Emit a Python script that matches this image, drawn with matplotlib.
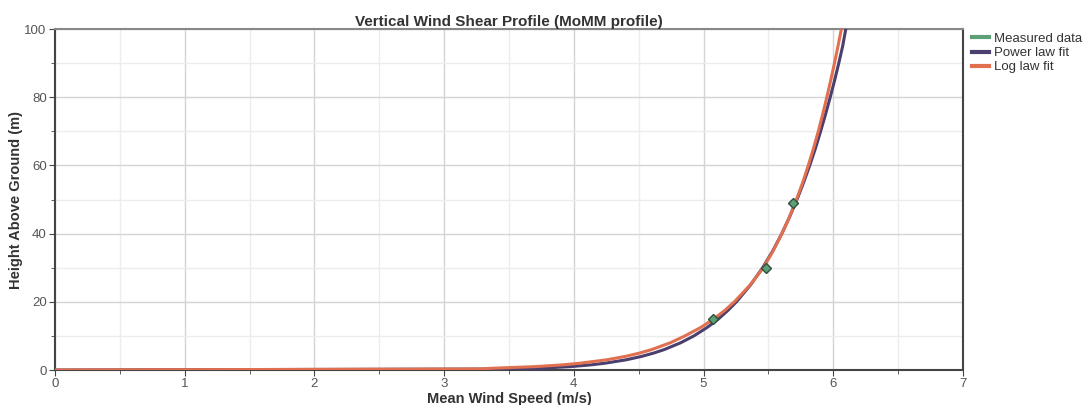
import matplotlib.pyplot as plt
from matplotlib.ticker import MultipleLocator

plt.rcParams['font.family'] = ['Liberation Sans', 'DejaVu Sans']

# measured points
meas_speed = [5.07, 5.48, 5.69]
meas_height = [15, 30, 49]

# fitted profiles
fit_height = [0, 0.3, 0.5, 1, 1.5, 2, 3, 4, 5, 6, 8, 10, 12.5, 15, 17.5, 20, 25, 30,
              35, 40, 45, 50, 55, 60, 65, 70, 75, 80, 85, 90, 95, 100, 105]
power_speed = [0, 3.554, 3.727, 3.976, 4.129, 4.241, 4.404, 4.523, 4.618, 4.697,
               4.824, 4.925, 5.028, 5.115, 5.188, 5.253, 5.363, 5.455, 5.534, 5.603,
               5.664, 5.720, 5.771, 5.818, 5.862, 5.902, 5.940, 5.976, 6.010, 6.042,
               6.072, 6.096, 6.129]
log_speed = [0, 3.28, 3.36, 3.705, 3.91, 4.05, 4.254, 4.398, 4.51, 4.60, 4.744,
             4.856, 4.979, 5.079, 5.164, 5.237, 5.36, 5.46, 5.537, 5.604, 5.663,
             5.716, 5.764, 5.807, 5.847, 5.884, 5.918, 5.950, 5.980, 6.009, 6.036,
             6.062, 6.087]

fig = plt.figure(figsize=(10.91, 4.05), dpi=100)
ax = fig.add_axes([0.0504, 0.0864, 0.8323, 0.8416])

ax.plot(power_speed, fit_height, color='#4a3f6e', lw=2.2, label='Power law fit', zorder=3)
ax.plot(log_speed, fit_height, color='#e0704f', lw=2.2, label='Log law fit', zorder=4)
ax.plot(meas_speed, meas_height, linestyle='none', marker='D', ms=5,
        markerfacecolor='#5f9f78', markeredgecolor='#2f4f3a', zorder=5)

ax.set_xlim(0, 7)
ax.set_ylim(0, 100)
ax.xaxis.set_major_locator(MultipleLocator(1))
ax.xaxis.set_minor_locator(MultipleLocator(0.5))
ax.yaxis.set_major_locator(MultipleLocator(20))
ax.yaxis.set_minor_locator(MultipleLocator(10))
ax.grid(which='major', color='#d4d4d4', lw=1)
ax.grid(which='minor', color='#ececec', lw=1)
ax.set_axisbelow(True)

ax.tick_params(which='both', direction='out', colors='#444444', labelcolor='#555555', labelsize=9.5)
ax.tick_params(which='major', length=4, pad=2)
ax.tick_params(which='minor', length=3)
for s in ['left', 'bottom', 'right']:
    ax.spines[s].set_color('#444444')
    ax.spines[s].set_linewidth(1.5)
ax.spines['top'].set_color('#888888')
ax.spines['top'].set_linewidth(1.5)

ax.set_xlabel('Mean Wind Speed (m/s)', fontsize=10.5, fontweight='bold', color='#333333', labelpad=1)
ax.set_ylabel('Height Above Ground (m)', fontsize=10.5, fontweight='bold', color='#333333', labelpad=1)
ax.set_title('Vertical Wind Shear Profile (MoMM profile)', fontsize=11, fontweight='bold',
             color='#333333', pad=2)

handles = [plt.Line2D([], [], color='#5f9f78', lw=3),
           plt.Line2D([], [], color='#4a3f6e', lw=3),
           plt.Line2D([], [], color='#e0704f', lw=3)]
fig.legend(handles, ['Measured data', 'Power law fit', 'Log law fit'],
           loc='upper left', bbox_to_anchor=(0.886, 0.932), frameon=False,
           fontsize=9.5, handlelength=1.3, handletextpad=0.4, labelspacing=0.15,
           borderaxespad=0, labelcolor='#333333')

fig.savefig('out.png', dpi=100)
